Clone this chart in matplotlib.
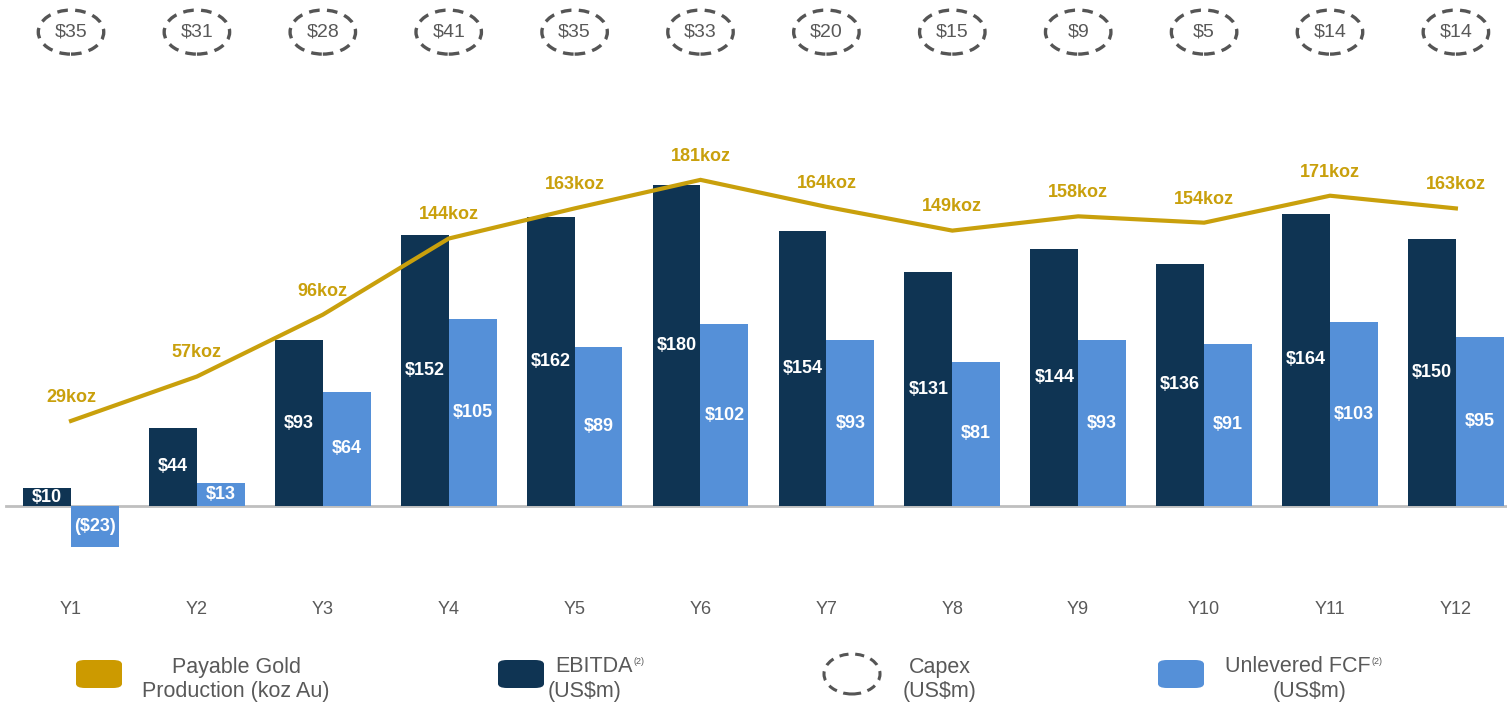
import matplotlib.pyplot as plt
from matplotlib.patches import Ellipse, FancyBboxPatch
import numpy as np

plt.rcParams['font.family'] = ['Liberation Sans', 'DejaVu Sans']

# chart data
years = ["Y1", "Y2", "Y3", "Y4", "Y5", "Y6", "Y7", "Y8", "Y9", "Y10", "Y11", "Y12"]
ebitda = [10, 44, 93, 152, 162, 180, 154, 131, 144, 136, 164, 150]
fcf = [-23, 13, 64, 105, 89, 102, 93, 81, 93, 91, 103, 95]
gold = [29, 57, 96, 144, 163, 181, 164, 149, 158, 154, 171, 163]
capex = [35, 31, 28, 41, 35, 33, 20, 15, 9, 5, 14, 14]

NAVY = "#0f3453"
LIGHT = "#5590d8"
GOLD = "#c9a00c"
GREY = "#595959"

fig = plt.figure(figsize=(15.07, 7.08), dpi=100)
ax = fig.add_axes([0, 0, 1, 1])
ax.axis("off")

x = np.arange(len(years))
w = 0.38

# money axis, pixel 506 is zero
ax.set_xlim(-0.564, 11.406)
ax.set_ylim(-113.3, 283.8)

ax.axhline(0, xmin=0.004, xmax=1, color="#bfbfbf", lw=2, zorder=1)

ax.bar(x - w / 2, ebitda, w, color=NAVY, zorder=2)
ax.bar(x + w / 2, fcf, w, color=LIGHT, zorder=2)

for i in range(len(years)):
    ax.text(x[i] - w / 2, ebitda[i] / 2, f"${ebitda[i]}", ha="center", va="center",
            color="white", fontsize=13, fontweight="bold", zorder=3)
    lab = f"${fcf[i]}" if fcf[i] >= 0 else f"(${-fcf[i]})"
    ax.text(x[i] + w / 2, fcf[i] / 2, lab, ha="center", va="center",
            color="white", fontsize=13, fontweight="bold", zorder=3)
    # x labels
    ax.text(x[i], -58, years[i], ha="center", va="center", color=GREY, fontsize=13)
    # capex ellipses at top
    e = Ellipse((x[i], 265.8), 0.52, 24.7, fill=False, ec="#555555", lw=2.4,
                ls=(0, (3.2, 2.2)), zorder=3)
    ax.add_patch(e)
    ax.text(x[i], 265.8, f"${capex[i]}", ha="center", va="center", color=GREY, fontsize=14)

# gold production on its own scale
ax2 = ax.twinx()
ax2.axis("off")
ax2.set_ylim(-152, 294.4)
ax2.plot(x, gold, color=GOLD, lw=3, zorder=4, solid_joinstyle="miter")
for i in range(len(years)):
    ax2.annotate(f"{gold[i]}koz", (x[i], gold[i]), xytext=(0, 17), textcoords="offset points",
                 ha="center", va="center", color=GOLD, fontsize=13, fontweight="bold")

# legend drawn by hand
W, H = 1507, 708


def box(px, py, color):
    p = FancyBboxPatch((px / W, 1 - (py + 28) / H), 46 / W, 28 / H,
                       boxstyle="round,pad=0,rounding_size=0.006", fc=color, ec="none",
                       transform=fig.transFigure)
    fig.patches.append(p)


box(76, 660, "#cc9a00")
box(498, 660, NAVY)
box(1158, 660, LIGHT)
fig.patches.append(Ellipse((852 / W, 1 - 674 / H), 56 / W, 40 / H, fill=False, ec="#555555",
                           lw=2.2, ls=(0, (3, 2.2)), transform=fig.transFigure))

ls = 15.5
fig.text(236 / W, 1 - 667 / H, "Payable Gold", ha="center", va="center", color=GREY, fontsize=ls)
fig.text(236 / W, 1 - 692 / H, "Production (koz Au)", ha="center", va="center", color=GREY, fontsize=ls)
t1 = fig.text(555 / W, 1 - 667 / H, "EBITDA", ha="left", va="center", color=GREY, fontsize=ls)
fig.text(585 / W, 1 - 692 / H, "(US$m)", ha="center", va="center", color=GREY, fontsize=ls)
fig.text(940 / W, 1 - 667 / H, "Capex", ha="center", va="center", color=GREY, fontsize=ls)
fig.text(940 / W, 1 - 692 / H, "(US$m)", ha="center", va="center", color=GREY, fontsize=ls)
t2 = fig.text(1225 / W, 1 - 667 / H, "Unlevered FCF", ha="left", va="center", color=GREY, fontsize=ls)
fig.text(1310 / W, 1 - 692 / H, "(US$m)", ha="center", va="center", color=GREY, fontsize=ls)

# superscripts placed right after the text they belong to
r = fig.canvas.get_renderer()
for t in (t1, t2):
    bb = t.get_window_extent(r)
    fig.text((bb.x1 + 1) / W, 1 - 661 / H, "(2)", ha="left", va="center", color=GREY, fontsize=6.5)

plt.savefig("out.png", dpi=100)
